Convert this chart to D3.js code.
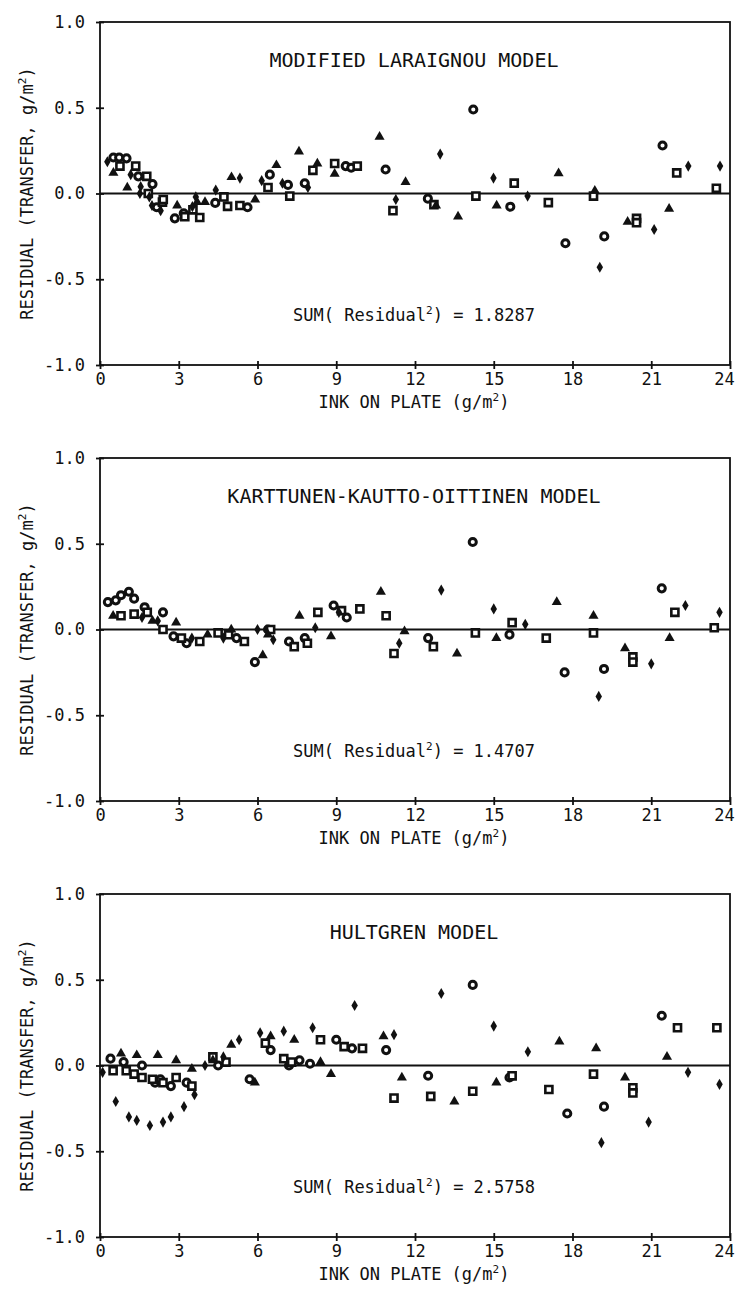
<!DOCTYPE html>
<html>
<head>
<script src="https://cdn.jsdelivr.net/npm/d3@7"></script>
<style>
  body { margin: 0; background: #fff; }
  text { font-family: "DejaVu Sans Mono", monospace; fill: #111; }
</style>
</head>
<body>
<div id="chart"></div>
<script>
// axis ticks
var xTicks = [0, 3, 6, 9, 12, 15, 18, 21, 24];
var yTicks = [1.0, 0.5, 0.0, -0.5, -1.0];
var yTickLabels = ["1.0", "0.5", "0.0", "-0.5", "-1.0"];

var panelTitles = ["MODIFIED LARAIGNOU MODEL", "KARTTUNEN-KAUTTO-OITTINEN MODEL", "HULTGREN MODEL"];
var sumValues = ["1.8287", "1.4707", "2.5758"];

// panel 1 : modified Laraignou  [ink on plate, residual]
var laraignouCircle = [[0.51,0.21],[0.73,0.21],[1.01,0.205],[1.46,0.10],[2.0,0.055],[2.16,-0.08],[2.85,-0.145],[3.19,-0.115],[4.39,-0.055],[5.62,-0.08],[6.47,0.11],[7.16,0.05],[7.80,0.06],[9.36,0.16],[9.57,0.15],[10.88,0.14],[12.49,-0.03],[14.22,0.49],[15.63,-0.077],[17.73,-0.29],[19.21,-0.25],[21.43,0.28]];
var laraignouSquare = [[0.76,0.16],[1.36,0.16],[1.78,0.10],[1.84,0.0],[2.38,-0.05],[2.41,-0.035],[3.23,-0.135],[3.54,-0.095],[3.80,-0.14],[4.72,-0.02],[4.86,-0.075],[5.33,-0.07],[6.40,0.035],[7.23,-0.015],[8.11,0.135],[8.94,0.175],[9.80,0.16],[11.16,-0.10],[12.72,-0.065],[14.32,-0.015],[15.78,0.06],[17.08,-0.053],[18.80,-0.015],[20.44,-0.145],[20.44,-0.17],[21.97,0.12],[23.48,0.03]];
var laraignouTriangle = [[0.51,0.12],[1.04,0.035],[2.94,-0.07],[3.7,-0.05],[4.0,-0.05],[5.01,0.095],[5.91,-0.035],[6.72,0.165],[7.58,0.245],[8.28,0.175],[8.94,0.115],[10.65,0.33],[11.64,0.067],[12.8,-0.07],[13.64,-0.135],[15.11,-0.07],[17.47,0.117],[18.85,0.016],[20.1,-0.165],[21.68,-0.09]];
var laraignouDiamond = [[0.28,0.185],[1.17,0.11],[1.55,0.04],[1.52,0.0],[1.88,-0.02],[1.98,-0.07],[2.31,-0.10],[3.52,-0.077],[3.65,-0.02],[4.41,0.02],[5.33,0.09],[6.16,0.075],[6.95,0.06],[7.92,0.035],[11.27,-0.035],[12.96,0.23],[14.99,0.09],[16.29,-0.015],[19.04,-0.43],[21.11,-0.21],[22.41,0.16],[23.62,0.16]];

// panel 2 : Karttunen-Kautto-Oittinen
var kkoCircle = [[0.3,0.16],[0.6,0.17],[0.8,0.2],[1.1,0.22],[1.3,0.18],[1.7,0.13],[2.4,0.1],[2.8,-0.04],[3.3,-0.08],[5.2,-0.05],[5.9,-0.19],[6.4,0.0],[7.2,-0.07],[7.8,-0.05],[8.9,0.14],[9.4,0.07],[12.5,-0.05],[14.2,0.51],[15.6,-0.03],[17.7,-0.25],[19.2,-0.23],[21.4,0.24]];
var kkoSquare = [[0.8,0.08],[1.3,0.09],[1.8,0.1],[2.4,0.0],[3.1,-0.05],[3.8,-0.07],[4.5,-0.02],[4.9,-0.03],[5.5,-0.07],[6.5,0.0],[7.4,-0.1],[7.9,-0.08],[8.3,0.1],[9.2,0.11],[9.9,0.12],[10.9,0.08],[11.2,-0.14],[12.7,-0.1],[14.3,-0.02],[15.7,0.04],[17.0,-0.05],[18.8,-0.02],[20.3,-0.16],[20.3,-0.19],[21.9,0.1],[23.4,0.01]];
var kkoTriangle = [[0.5,0.08],[2.0,0.05],[2.9,0.04],[4.1,-0.03],[5.0,0.0],[6.2,-0.15],[6.4,-0.03],[7.6,0.08],[8.8,-0.04],[10.7,0.22],[11.6,-0.01],[13.6,-0.14],[15.1,-0.05],[17.4,0.16],[18.8,0.08],[20.0,-0.11],[21.7,-0.05]];
var kkoDiamond = [[1.6,0.07],[2.2,0.05],[3.5,-0.05],[4.7,-0.05],[6.0,0.0],[6.6,-0.06],[8.2,0.01],[9.1,0.1],[11.4,-0.08],[13.0,0.23],[15.0,0.12],[16.2,0.03],[19.0,-0.39],[21.0,-0.2],[22.3,0.14],[23.6,0.1]];

// panel 3 : Hultgren
var hultgrenCircle = [[0.4,0.04],[0.9,0.02],[1.6,0.0],[2.1,-0.1],[2.3,-0.08],[2.7,-0.12],[3.3,-0.1],[4.5,0.0],[5.7,-0.08],[6.5,0.09],[7.2,0.0],[7.6,0.03],[8.0,0.01],[9.0,0.15],[9.6,0.1],[10.9,0.09],[12.5,-0.06],[14.2,0.47],[15.6,-0.07],[17.8,-0.28],[19.2,-0.24],[21.4,0.29]];
var hultgrenSquare = [[0.5,-0.03],[1.0,-0.03],[1.3,-0.05],[1.6,-0.07],[2.0,-0.08],[2.4,-0.1],[2.9,-0.07],[3.5,-0.12],[4.3,0.05],[4.8,0.02],[6.3,0.13],[7.0,0.04],[7.3,0.02],[8.4,0.15],[9.3,0.11],[10.0,0.1],[11.2,-0.19],[12.6,-0.18],[14.2,-0.15],[15.7,-0.06],[17.1,-0.14],[18.8,-0.05],[20.3,-0.13],[20.3,-0.16],[22.0,0.22],[23.5,0.22]];
var hultgrenTriangle = [[0.8,0.07],[1.4,0.06],[2.2,0.06],[2.9,0.03],[3.5,-0.02],[4.3,0.03],[5.0,0.12],[5.9,-0.1],[6.5,0.17],[7.4,0.15],[8.4,0.02],[8.8,-0.05],[10.8,0.17],[11.5,-0.07],[13.5,-0.21],[15.1,-0.1],[17.5,0.14],[18.9,0.1],[20.0,-0.07],[21.6,0.05]];
var hultgrenDiamond = [[0.1,-0.04],[0.6,-0.21],[1.1,-0.3],[1.4,-0.32],[1.9,-0.35],[2.4,-0.33],[2.7,-0.3],[3.2,-0.24],[3.6,-0.17],[4.0,0.0],[4.7,0.05],[5.3,0.15],[6.1,0.19],[7.0,0.2],[8.1,0.22],[9.7,0.35],[11.2,0.18],[13.0,0.42],[15.0,0.23],[16.3,0.08],[19.1,-0.45],[20.9,-0.33],[22.4,-0.04],[23.6,-0.11]];

var panels = [
  {title: panelTitles[0], sum: sumValues[0], circle: laraignouCircle, square: laraignouSquare, triangle: laraignouTriangle, diamond: laraignouDiamond},
  {title: panelTitles[1], sum: sumValues[1], circle: kkoCircle, square: kkoSquare, triangle: kkoTriangle, diamond: kkoDiamond},
  {title: panelTitles[2], sum: sumValues[2], circle: hultgrenCircle, square: hultgrenSquare, triangle: hultgrenTriangle, diamond: hultgrenDiamond}
];

var width = 739, height = 1301;
var left = 100, right = 730;
var panelTops = [22, 458, 894];
var plotH = 343;

var svg = d3.select("#chart").append("svg")
    .attr("width", width)
    .attr("height", height);

var x = d3.scaleLinear().domain([0, 24]).range([left, right]);

panels.forEach(function(p, i) {
    var top = panelTops[i], bottom = top + plotH;
    var y = d3.scaleLinear().domain([-1, 1]).range([bottom, top]);
    var g = svg.append("g");

    // frame
    g.append("rect")
        .attr("x", left).attr("y", top)
        .attr("width", right - left).attr("height", plotH)
        .attr("fill", "none").attr("stroke", "#111").attr("stroke-width", 1.8);

    // zero line
    g.append("line")
        .attr("x1", x(0)).attr("x2", x(24))
        .attr("y1", y(0)).attr("y2", y(0))
        .attr("stroke", "#111").attr("stroke-width", 1.8);

    // y axis
    var yAxis = d3.axisLeft(y).tickValues(yTicks)
        .tickSize(5).tickPadding(10)
        .tickFormat(function(d, k) { return yTickLabels[k]; });
    var ya = g.append("g").attr("transform", "translate(" + left + ",0)").call(yAxis);
    ya.select(".domain").remove();
    ya.selectAll(".tick line").attr("x2", 4).attr("x1", -4).attr("stroke", "#111").attr("stroke-width", 1.8);
    ya.selectAll(".tick text").attr("font-size", 17).attr("font-family", "DejaVu Sans Mono").attr("fill", "#111");

    // x axis
    var xAxis = d3.axisBottom(x).tickValues(xTicks).tickSize(4).tickPadding(4);
    var xa = g.append("g").attr("transform", "translate(0," + bottom + ")").call(xAxis);
    xa.select(".domain").remove();
    xa.selectAll(".tick line").attr("y1", -4).attr("y2", 4).attr("stroke", "#111").attr("stroke-width", 1.8);
    xa.selectAll(".tick text").attr("font-size", 17).attr("font-family", "DejaVu Sans Mono").attr("fill", "#111")
        .attr("dx", function(d) { return d === 24 ? -6 : 0; });

    // titles
    g.append("text")
        .attr("x", 414).attr("y", top + 45)
        .attr("text-anchor", "middle").attr("font-size", 20)
        .text(p.title);

    var s = g.append("text")
        .attr("x", 414).attr("y", top + 299)
        .attr("text-anchor", "middle").attr("font-size", 17);
    s.append("tspan").text("SUM( Residual");
    s.append("tspan").attr("font-size", 11).attr("dy", -7).text("2");
    s.append("tspan").attr("dy", 7).text(") = " + p.sum);

    var xl = g.append("text")
        .attr("x", 414).attr("y", bottom + 43)
        .attr("text-anchor", "middle").attr("font-size", 17);
    xl.append("tspan").text("INK ON PLATE (g/m");
    xl.append("tspan").attr("font-size", 11).attr("dy", -7).text("2");
    xl.append("tspan").attr("dy", 7).text(")");

    var yl = g.append("text")
        .attr("transform", "translate(33," + (top + plotH / 2) + ") rotate(-90)")
        .attr("text-anchor", "middle").attr("font-size", 17);
    yl.append("tspan").text("RESIDUAL (TRANSFER, g/m");
    yl.append("tspan").attr("font-size", 11).attr("dy", -7).text("2");
    yl.append("tspan").attr("dy", 7).text(")");

    // markers
    var markers = [
        {data: p.circle, type: d3.symbolCircle, size: 40, fill: "#fff", stroke: 3},
        {data: p.square, type: d3.symbolSquare, size: 50, fill: "#fff", stroke: 2.6},
        {data: p.triangle, type: d3.symbolTriangle, size: 44, fill: "#111", stroke: 0},
        {data: p.diamond, type: d3.symbolDiamond, size: 36, fill: "#111", stroke: 0}
    ];
    markers.forEach(function(m) {
        g.selectAll(null).data(m.data).enter().append("path")
            .attr("d", d3.symbol().type(m.type).size(m.size))
            .attr("transform", function(d) { return "translate(" + x(d[0]) + "," + y(d[1]) + ")"; })
            .attr("fill", m.fill)
            .attr("stroke", "#111")
            .attr("stroke-width", m.stroke);
    });
});
</script>
</body>
</html>
